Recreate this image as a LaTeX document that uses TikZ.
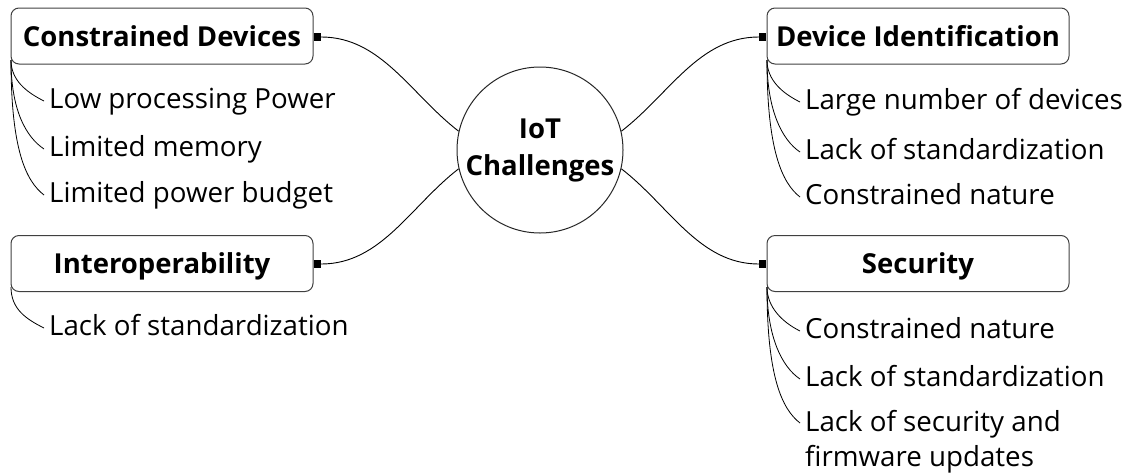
\documentclass[tikz,border=0pt]{standalone}
\usepackage{fontspec}
\setmainfont{Open Sans}
\begin{document}
\begin{tikzpicture}[x=1pt,y=-1pt,
  every node/.style={font=\fontsize{27.7}{35}\selectfont, inner sep=0pt},
  topic/.style={draw=black!75, line width=1pt, rounded corners=8pt, minimum width=302pt, minimum height=56pt, font=\fontsize{27.5}{35}\selectfont\bfseries, text height=20pt, text depth=0pt},
  hub/.style={draw=black!85, line width=1pt, circle, minimum size=166pt, align=center, font=\fontsize{27.5}{37}\selectfont\bfseries},
  marker/.style={fill=black, minimum width=7pt, minimum height=8pt},
  item/.style={anchor=base west, text height=20pt, text depth=6pt},
  link/.style={line width=0.9pt, black},
  sub/.style={line width=0.8pt, black}]
\useasboundingbox (0,0) rectangle (1134,472);

\node[hub] (c) at (540,150) {IoT\\Challenges};

\node[topic] (cd) at (162,36) {Constrained Devices};
\node[topic] (io) at (162,263.5) {Interoperability};
\node[topic] (di) at (918,36) {Device Identification};
\node[topic] (se) at (918,263.5) {Security};

\node[marker] (m1) at (317.5,37) {};
\node[marker] (m2) at (317.5,264) {};
\node[marker] (m3) at (762.5,37) {};
\node[marker] (m4) at (762.5,264) {};

\draw[link] (m1.east) .. controls +(60,0) and +(-48,-37) .. (c.167);
\draw[link] (m2.east) .. controls +(60,0) and +(-48,37) .. (c.193);
\draw[link] (m3.west) .. controls +(-60,0) and +(48,-37) .. (c.13);
\draw[link] (m4.west) .. controls +(-60,0) and +(48,37) .. (c.-13);

% children left
\node[item] (l1) at (49,108) {Low processing Power};
\node[item] (l2) at (49,156) {Limited memory};
\node[item] (l3) at (49,202) {Limited power budget};
\node[item] (l4) at (49,335) {Lack of standardization};

\coordinate (cdr) at (11,60);
\coordinate (ior) at (11,287);
\draw[sub] (cdr) .. controls +(0,20) and +(-18,-9) .. ([xshift=-5pt]l1.west);
\draw[sub] (cdr) .. controls +(0,50) and +(-18,-12) .. ([xshift=-5pt]l2.west);
\draw[sub] (cdr) .. controls +(0,90) and +(-18,-14) .. ([xshift=-5pt]l3.west);
\draw[sub] (ior) .. controls +(0,22) and +(-18,-9) .. ([xshift=-5pt]l4.west);

% children right
\node[item] (r1) at (805,109) {Large number of devices};
\node[item] (r2) at (805,159) {Lack of standardization};
\node[item] (r3) at (805,204) {Constrained nature};
\node[item] (s1) at (805,338) {Constrained nature};
\node[item] (s2) at (805,386) {Lack of standardization};
\node[anchor=north west, align=left] (s3) at (805,410) {Lack of security and\\firmware updates};
\coordinate (s3e) at (800,423);

\coordinate (dir) at (767,60);
\coordinate (ser) at (767,287);
\draw[sub] (dir) .. controls +(0,20) and +(-18,-9) .. ([xshift=-5pt]r1.west);
\draw[sub] (dir) .. controls +(0,50) and +(-18,-12) .. ([xshift=-5pt]r2.west);
\draw[sub] (dir) .. controls +(0,90) and +(-18,-14) .. ([xshift=-5pt]r3.west);
\draw[sub] (ser) .. controls +(0,20) and +(-18,-9) .. ([xshift=-5pt]s1.west);
\draw[sub] (ser) .. controls +(0,50) and +(-18,-12) .. ([xshift=-5pt]s2.west);
\draw[sub] (ser) .. controls +(0,90) and +(-18,-14) .. (s3e);
\end{tikzpicture}
\end{document}
